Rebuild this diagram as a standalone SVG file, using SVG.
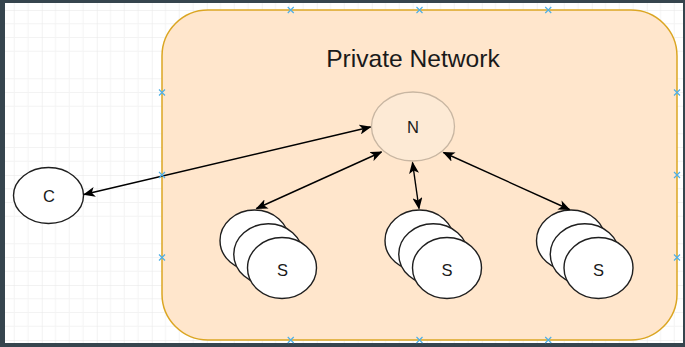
<svg xmlns="http://www.w3.org/2000/svg" width="685" height="347" viewBox="0 0 685 347">
  <style>
    .lbl { font-family: "Liberation Sans", Arial, sans-serif; fill: #1a1a1a; text-anchor: middle; }
    .s { fill: #ffffff; stroke: #1f1f1f; stroke-width: 1.4; }
    .edge { fill: none; stroke: #000000; stroke-width: 1.4; marker-start: url(#arr); marker-end: url(#arr); }
    .cp { stroke: #4fb0e6; stroke-width: 1.2; fill: none; }
  </style>
  <defs>
    <pattern id="grid" patternUnits="userSpaceOnUse" x="41.75" y="10" width="55" height="55">
      <path d="M13.75 0V55M27.5 0V55M41.25 0V55M0 13.75H55M0 27.5H55M0 41.25H55" stroke="#f3f3f3" stroke-width="1" fill="none"/>
      <path d="M0 0V55M0 0H55" stroke="#e6e6e6" stroke-width="1" fill="none"/>
    </pattern>
    <marker id="arr" viewBox="0 0 12 10" refX="11" refY="5" markerWidth="12" markerHeight="10" markerUnits="userSpaceOnUse" orient="auto-start-reverse">
      <path d="M0 0L12 5L0 10L3 5Z" fill="#000"/>
    </marker>
    <path id="cross" d="M-3 -3L3 3M-3 3L3 -3"/>
  </defs>

  <rect x="0" y="0" width="685" height="347" fill="#36454e"/>
  <rect x="5" y="3" width="678" height="340" fill="#ffffff"/>
  <rect x="5" y="3" width="678" height="340" fill="url(#grid)"/>

  <g id="private-network">
    <rect x="162" y="10" width="515" height="330" rx="46" ry="46" fill="#ffe6cc" stroke="#dba623" stroke-width="1.5"/>
    <text class="lbl" x="413" y="67" font-size="24.6">Private Network</text>
  </g>

  <g id="node-N">
    <ellipse cx="413" cy="126.5" rx="41.5" ry="34.5" fill="#fdead5" stroke="#c8b6a2" stroke-width="1.3"/>
    <text class="lbl" x="413" y="133" font-size="16.5">N</text>
  </g>

  <g id="node-C">
    <ellipse cx="48.5" cy="195.5" rx="35" ry="28" class="s"/>
    <text class="lbl" x="49" y="202" font-size="16.5">C</text>
  </g>

  <g id="stack-S1">
    <ellipse cx="254.5" cy="240.5" rx="34.5" ry="30.5" class="s"/>
    <ellipse cx="268.25" cy="254.25" rx="34.5" ry="30.5" class="s"/>
    <ellipse cx="282" cy="268" rx="34.5" ry="30.5" class="s"/>
    <text class="lbl" x="282.5" y="276" font-size="16.5">S</text>
  </g>

  <g id="stack-S2">
    <ellipse cx="419.5" cy="240.5" rx="34.5" ry="30.5" class="s"/>
    <ellipse cx="433.25" cy="254.25" rx="34.5" ry="30.5" class="s"/>
    <ellipse cx="447" cy="268" rx="34.5" ry="30.5" class="s"/>
    <text class="lbl" x="447" y="276" font-size="16.5">S</text>
  </g>

  <g id="stack-S3">
    <ellipse cx="571" cy="240.5" rx="34.5" ry="30.5" class="s"/>
    <ellipse cx="584.75" cy="254.25" rx="34.5" ry="30.5" class="s"/>
    <ellipse cx="598.5" cy="268" rx="34.5" ry="30.5" class="s"/>
    <text class="lbl" x="598.5" y="276" font-size="16.5">S</text>
  </g>

  <g id="connectors">
    <line class="edge" x1="84" y1="194.5" x2="370.5" y2="127"/>
    <line class="edge" x1="381.5" y1="152" x2="256.5" y2="208.5"/>
    <line class="edge" x1="412.5" y1="162.5" x2="419" y2="208.5"/>
    <line class="edge" x1="443.5" y1="152.5" x2="569.5" y2="209.5"/>
  </g>

  <g id="connection-points" class="cp">
    <use href="#cross" x="290.75" y="10"/>
    <use href="#cross" x="419.5" y="10"/>
    <use href="#cross" x="548.25" y="10"/>
    <use href="#cross" x="290.75" y="340"/>
    <use href="#cross" x="419.5" y="340"/>
    <use href="#cross" x="548.25" y="340"/>
    <use href="#cross" x="162" y="92.5"/>
    <use href="#cross" x="162" y="175"/>
    <use href="#cross" x="162" y="257.5"/>
    <use href="#cross" x="677" y="92.5"/>
    <use href="#cross" x="677" y="175"/>
    <use href="#cross" x="677" y="257.5"/>
  </g>
</svg>
